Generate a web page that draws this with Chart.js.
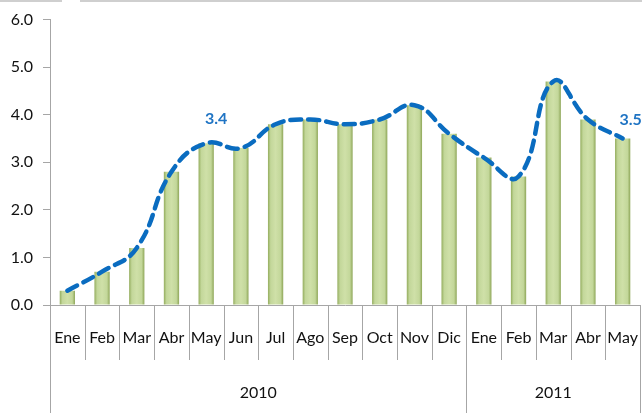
<!DOCTYPE html>
<html lang="es">
<head>
<meta charset="UTF-8" />
<title>Serie mensual 2010-2011</title>
<script src="https://cdn.jsdelivr.net/npm/chart.js"></script>
<style>
  html, body { margin: 0; padding: 0; background: #fff; }
  #wrap { width: 642px; height: 413px; }
</style>
</head>
<body>
<div id="wrap"><canvas id="chart" width="642" height="413"></canvas></div>
<script>
// data
const months = ["Ene", "Feb", "Mar", "Abr", "May", "Jun", "Jul", "Ago", "Sep", "Oct", "Nov", "Dic",
                "Ene", "Feb", "Mar", "Abr", "May"];
const years = ["2010", "2011"];
const yearSpans = [12, 5];           // months per year group
const values = [0.3, 0.7, 1.2, 2.8, 3.4, 3.3, 3.8, 3.9, 3.8, 3.9, 4.2, 3.6,
                3.1, 2.7, 4.7, 3.9, 3.5];
const labelledPoints = [4, 16];      // points that carry a value label
const yTicks = [0, 1, 2, 3, 4, 5, 6];

const FONT = "Lato, 'Open Sans', sans-serif";
const AXIS = "#a6a6a6";

// horizontal gradient for each bar, a bit darker on the edges
function barFill(context) {
  const chart = context.chart;
  const x = chart.scales.x;
  if (!x || !chart.chartArea) return "#c4d79b";
  const xc = x.getPixelForValue(context.dataIndex);
  const w = (x.right - x.left) / months.length * 0.44;
  const g = chart.ctx.createLinearGradient(xc - w / 2, 0, xc + w / 2, 0);
  g.addColorStop(0, "#94ad5e");
  g.addColorStop(0.18, "#c3d79a");
  g.addColorStop(0.5, "#cfe0a8");
  g.addColorStop(0.82, "#c3d79a");
  g.addColorStop(1, "#8ea658");
  return g;
}

// two-level category axis + value labels
const decorations = {
  id: "decorations",
  afterDraw(chart) {
    const ctx = chart.ctx;
    const x = chart.scales.x;
    const y = chart.scales.y;
    const bottom = chart.chartArea.bottom;
    const step = (x.right - x.left) / months.length;

    ctx.save();
    // faint frame line along the top
    ctx.strokeStyle = "#cfcfcf";
    ctx.lineWidth = 2;
    ctx.beginPath();
    ctx.moveTo(0, 1); ctx.lineTo(62, 1);
    ctx.moveTo(80, 1); ctx.lineTo(642, 1);
    ctx.stroke();

    ctx.strokeStyle = AXIS;
    ctx.lineWidth = 1;
    const groupEdges = [0];
    yearSpans.reduce((acc, n) => { groupEdges.push(acc + n); return acc + n; }, 0);
    for (let i = 0; i <= months.length; i++) {
      const px = Math.round(x.left + i * step) + 0.5;
      const full = groupEdges.includes(i);
      ctx.beginPath();
      ctx.moveTo(px, bottom);
      ctx.lineTo(px, full ? chart.height : bottom + 55);
      ctx.stroke();
    }

    ctx.fillStyle = "#111";
    ctx.font = "16px " + FONT;
    ctx.textAlign = "center";
    ctx.textBaseline = "middle";
    months.forEach((m, i) => {
      ctx.fillText(m, x.getPixelForValue(i), bottom + 33);
    });
    years.forEach((yr, k) => {
      const a = x.left + groupEdges[k] * step;
      const b = x.left + groupEdges[k + 1] * step;
      ctx.fillText(yr, (a + b) / 2, bottom + 88);
    });

    // value labels on the line
    ctx.fillStyle = "#1f74c4";
    ctx.font = "bold 16px " + FONT;
    labelledPoints.forEach((i, n) => {
      const px = x.getPixelForValue(i);
      const py = y.getPixelForValue(values[i]);
      const dx = n === 0 ? 10 : 8;
      const dy = n === 0 ? -24 : -19;
      ctx.fillText(values[i].toFixed(1), px + dx, py + dy);
    });
    ctx.restore();
  }
};

new Chart(document.getElementById("chart"), {
  data: {
    labels: months,
    datasets: [
      {
        type: "line",
        data: values,
        borderColor: "#0a6cc0",
        borderWidth: 4.5,
        borderDash: [11, 7],
        borderCapStyle: "round",
        tension: 0.45,
        pointRadius: 0,
        fill: false,
        order: 0
      },
      {
        type: "bar",
        data: values,
        backgroundColor: barFill,
        borderWidth: 0,
        categoryPercentage: 1,
        barPercentage: 0.44,
        order: 1
      }
    ]
  },
  options: {
    responsive: false,
    animation: false,
    layout: { padding: { top: 18, right: 2, left: 0, bottom: 0 } },
    plugins: { legend: { display: false }, tooltip: { enabled: false } },
    scales: {
      x: {
        type: "category",
        ticks: { display: false },
        grid: { display: false },
        border: { display: true, color: AXIS, width: 1 },
        afterFit(scale) { scale.height = 108; }
      },
      y: {
        min: 0,
        max: 6,
        afterBuildTicks(scale) { scale.ticks = yTicks.map(v => ({ value: v })); },
        ticks: {
          padding: 10,
          color: "#111",
          font: { family: FONT, size: 16 },
          callback: v => Number(v).toFixed(1)
        },
        grid: { drawOnChartArea: false, tickLength: 7, color: AXIS },
        border: { display: true, color: AXIS, width: 1 },
        afterFit(scale) { scale.width = 50; }
      }
    }
  },
  plugins: [decorations]
});
</script>
</body>
</html>
